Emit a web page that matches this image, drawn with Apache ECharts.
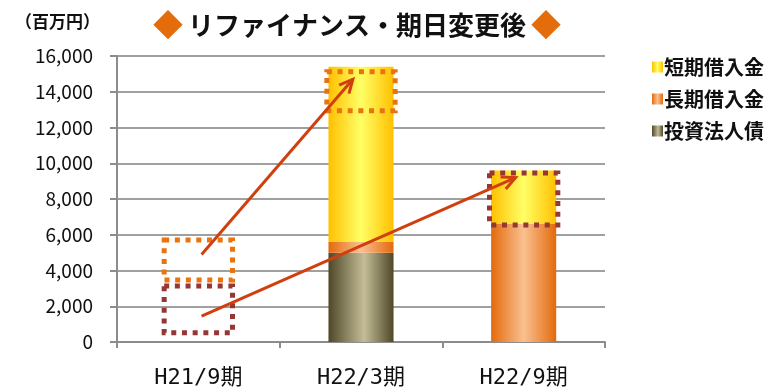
<!DOCTYPE html>
<html>
<head>
<meta charset="utf-8">
<script src="https://cdn.jsdelivr.net/npm/echarts@6/dist/echarts.min.js"></script>
<style>
  html, body { margin: 0; padding: 0; background: #fff; }
  #chart { width: 773px; height: 392px; }
</style>
</head>
<body>
<div id="chart"></div>
<script>
// Periods (millions of yen)
const categories = ['H21/9期', 'H22/3期', 'H22/9期'];
const bondValues = [0, 5000, 0];          // 投資法人債
const longTermValues = [0, 600, 6600];    // 長期借入金
const shortTermValues = [0, 9800, 3000];  // 短期借入金
const yTicks = [0, 2000, 4000, 6000, 8000, 10000, 12000, 14000, 16000];

// Dotted highlight ranges: [period index, low, high, style key]
const highlightRanges = [
  [0, 3470, 5700, 0],
  [0, 520, 3130, 1],
  [1, 12940, 15120, 0],
  [2, 6540, 9450, 1]
];
// Arrows: [from period, from value, to period, to value]
const arrowLinks = [
  [0, 4900, 1, 14700],
  [0, 1450, 2, 9200]
];

const boxColors = ['#E8730F', '#953735'];
const arrowColor = '#D0400E';

function hGrad(edge, mid, pos) {
  return new echarts.graphic.LinearGradient(0, 0, 1, 0, [
    { offset: 0, color: edge },
    { offset: pos, color: mid },
    { offset: 1, color: edge }
  ]);
}

const chart = echarts.init(document.getElementById('chart'), null, { renderer: 'canvas' });

const axisFont = 'DejaVu Sans Mono, "Noto Sans CJK JP", sans-serif';

const option = {
  animation: false,
  backgroundColor: '#fff',
  title: {
    text: '{d|◆} {t|リファイナンス・期日変更後} {d|◆}',
    left: 148,
    top: 5,
    textStyle: {
      rich: {
        d: { color: '#E46C0A', fontSize: 30, fontFamily: '"Noto Sans CJK JP"' },
        t: { color: '#111', fontSize: 26, fontWeight: 'bold', fontFamily: '"Noto Sans CJK JP"' }
      }
    }
  },
  graphic: [{
    type: 'text',
    left: 15,
    top: 13,
    style: {
      text: '（百万円）',
      fill: '#111',
      font: 'bold 17px "Noto Sans CJK JP"'
    }
  }],
  legend: {
    orient: 'vertical',
    left: 647,
    top: 52,
    icon: 'rect',
    itemWidth: 11,
    itemHeight: 11,
    itemGap: 12,
    data: ['短期借入金', '長期借入金', '投資法人債'],
    textStyle: {
      fontSize: 20,
      fontWeight: 'bold',
      color: '#111',
      fontFamily: '"Noto Sans CJK JP"',
      padding: [0, 0, 0, -4]
    }
  },
  grid: { left: 117, right: 168, top: 56, bottom: 50, containLabel: false },
  xAxis: {
    type: 'category',
    data: categories,
    axisLine: { lineStyle: { color: '#8C8C8C', width: 2 } },
    axisTick: { show: true, length: 6, lineStyle: { color: '#8C8C8C', width: 2 } },
    axisLabel: { margin: 25, fontSize: 22, color: '#111', fontFamily: axisFont }
  },
  yAxis: {
    type: 'value',
    min: yTicks[0],
    max: yTicks[yTicks.length - 1],
    interval: yTicks[1] - yTicks[0],
    axisLine: { show: true, lineStyle: { color: '#8C8C8C', width: 2 } },
    axisTick: { show: true, length: 7, lineStyle: { color: '#8C8C8C', width: 2 } },
    splitLine: { lineStyle: { color: '#A0A0A0', width: 2 } },
    axisLabel: {
      margin: 24,
      fontSize: 19,
      color: '#111',
      fontFamily: '"Noto Sans CJK JP"',
      formatter: v => v.toLocaleString('en-US')
    }
  },
  series: [
    {
      name: '投資法人債',
      type: 'bar',
      stack: 'debt',
      barWidth: '40%',
      data: bondValues,
      itemStyle: { color: hGrad('#4E4829', '#C4BD97', 0.55) }
    },
    {
      name: '長期借入金',
      type: 'bar',
      stack: 'debt',
      data: longTermValues,
      itemStyle: { color: hGrad('#E36A0C', '#FAC090', 0.5) }
    },
    {
      name: '短期借入金',
      type: 'bar',
      stack: 'debt',
      data: shortTermValues,
      itemStyle: { color: hGrad('#FFC000', '#FFFF66', 0.5) }
    },
    {
      name: 'ranges',
      type: 'custom',
      z: 5,
      silent: true,
      encode: { x: 0, y: [1, 2] },
      data: highlightRanges,
      renderItem: function (params, api) {
        const band = api.size([1, 0])[0];
        const w = band * 0.42;
        const lo = api.coord([api.value(0), api.value(1)]);
        const hi = api.coord([api.value(0), api.value(2)]);
        return {
          type: 'rect',
          shape: { x: lo[0] - w / 2, y: hi[1], width: w, height: lo[1] - hi[1] },
          style: {
            fill: 'none',
            stroke: boxColors[api.value(3)],
            lineWidth: 5,
            lineDash: [5, 5.7]
          }
        };
      }
    },
    {
      name: 'arrows',
      type: 'custom',
      z: 6,
      silent: true,
      encode: { x: [0, 2], y: [1, 3] },
      data: arrowLinks,
      renderItem: function (params, api) {
        const band = api.size([1, 0])[0];
        const a = api.coord([api.value(0), api.value(1)]);
        const b = api.coord([api.value(2), api.value(3)]);
        a[0] += band * 0.02;
        b[0] -= band * 0.05;
        const ang = Math.atan2(b[1] - a[1], b[0] - a[0]);
        const len = 15, spread = 0.45;
        const p1 = [b[0] - len * Math.cos(ang - spread), b[1] - len * Math.sin(ang - spread)];
        const p2 = [b[0] - len * Math.cos(ang + spread), b[1] - len * Math.sin(ang + spread)];
        const st = { stroke: arrowColor, lineWidth: 3, fill: 'none' };
        return {
          type: 'group',
          children: [
            { type: 'line', shape: { x1: a[0], y1: a[1], x2: b[0], y2: b[1] }, style: st },
            { type: 'polyline', shape: { points: [p1, b, p2] }, style: st }
          ]
        };
      }
    }
  ]
};

chart.setOption(option);
</script>
</body>
</html>
